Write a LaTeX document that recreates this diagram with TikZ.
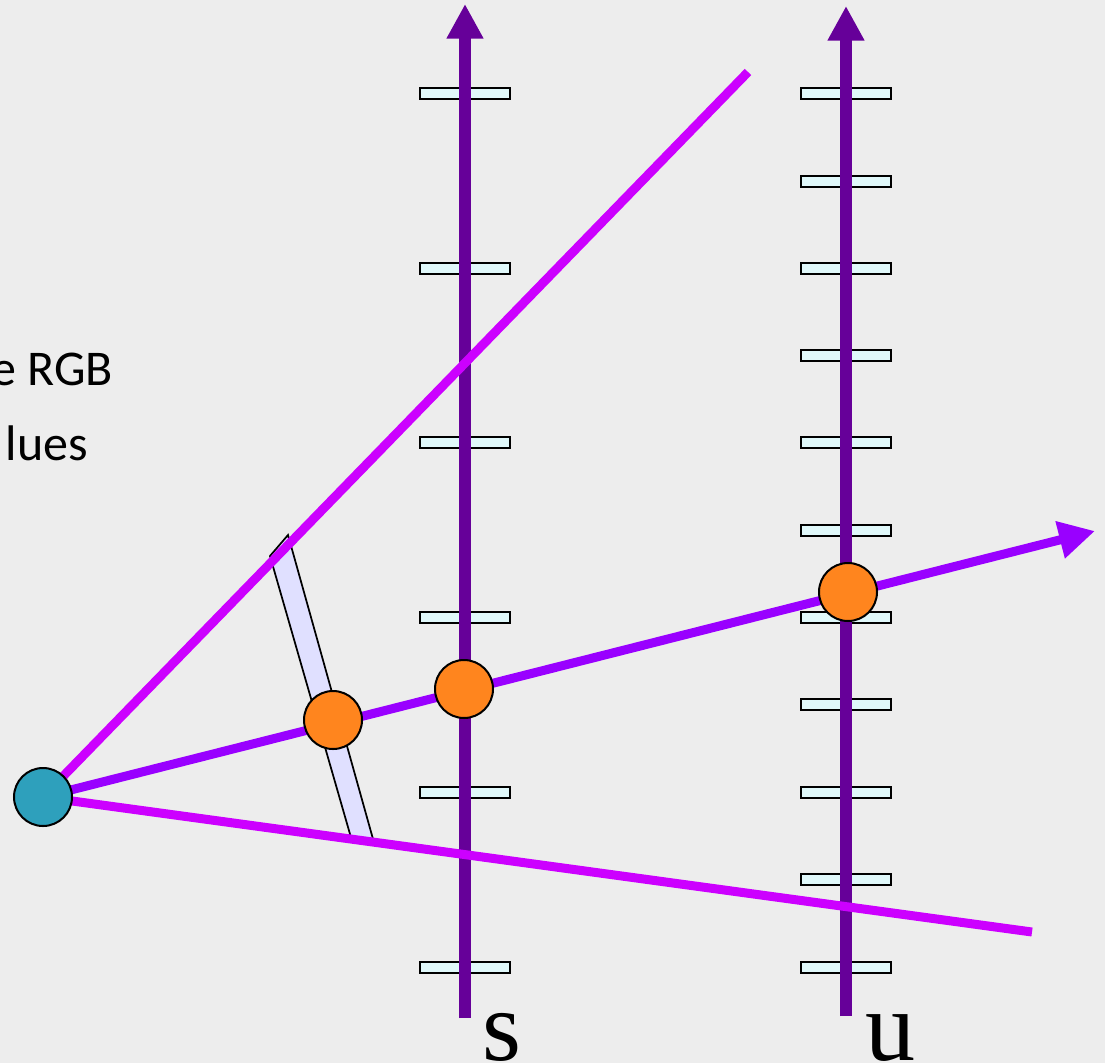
\documentclass[tikz,border=0pt]{standalone}
\usepackage{fontspec}
\setmainfont{Liberation Serif}
\newfontfamily\labelsans{Carlito}
\usetikzlibrary{arrows.meta}

\definecolor{paper}{HTML}{EDEDED}
\definecolor{frustum}{HTML}{CC00FF}
\definecolor{rayviolet}{HTML}{9900FF}
\definecolor{axispurple}{HTML}{660099}
\definecolor{tickfill}{HTML}{E0F8FA}
\definecolor{slabfill}{HTML}{E0E0FF}
\definecolor{sampleorange}{HTML}{FF851E}
\definecolor{eyeteal}{HTML}{2EA0BC}

\pgfdeclarelayer{back}
\pgfdeclarelayer{mid}
\pgfsetlayers{back,mid,main}

\tikzset{
  tickbar/.style={rectangle, draw=black, line width=1.5pt, fill=tickfill,
    minimum width=67.5pt, minimum height=8.25pt, inner sep=0pt},
  axisline/.style={draw=axispurple, line width=9pt,
    -{Triangle[length=26pt,width=26pt]}},
  frustumline/.style={draw=frustum, line width=6.75pt},
  rayline/.style={draw=rayviolet, line width=6.75pt,
    -{Triangle[length=27pt,width=27pt]}},
  dot/.style={circle, draw=black, line width=1.5pt, minimum size=43.5pt, inner sep=0pt},
  slab/.style={draw=black, line width=1.3pt, fill=slabfill},
  sidetext/.style={font=\labelsans\fontsize{37.5pt}{45pt}\selectfont, inner sep=0pt, anchor=base east},
  axislabel/.style={font=\fontsize{75pt}{80pt}\selectfont, inner sep=0pt, anchor=base}
}

\begin{document}
\begin{tikzpicture}[x=0.75pt,y=-0.75pt]
  % page size
  \useasboundingbox (0,0) rectangle (1105,1063);

  % points on the scene
  \node[dot, fill=eyeteal] (eye) at (43,797) {};
  \node[dot, fill=sampleorange] (p1) at (333,720) {};
  \node[dot, fill=sampleorange] (p2) at (464,689) {};
  \node[dot, fill=sampleorange] (p3) at (848,592) {};

  \coordinate (sBot) at (465,1018);
  \coordinate (sTop) at (465,4);
  \coordinate (uBot) at (846,1016);
  \coordinate (uTop) at (846,6);
  \coordinate (upEnd) at (748,72);
  \coordinate (lowEnd) at (1032,932);
  \coordinate (rayEnd) at (1095,531);

  \begin{pgfonlayer}{back}
    % background
    \fill[paper] (0,0) rectangle (1105,1063);
    % tick marks on the two axes
    \foreach \k/\yy in {1/93.5,2/268,3/442.5,4/617,5/792,6/967}
      \node[tickbar] (sTick\k) at (465,\yy) {};
    \foreach \k/\yy in {1/93.5,2/181,3/268,4/355.5,5/442.5,6/530,7/617,8/704.5,9/792,10/879.5,11/967}
      \node[tickbar] (uTick\k) at (846,\yy) {};
    % the two vertical axes
    \draw[axisline] (sBot) -- (sTop);
    \draw[axisline] (uBot) -- (uTop);
  \end{pgfonlayer}

  \begin{pgfonlayer}{mid}
    % slanted slab across the ray, its ends tucked under the frustum edges
    \draw[slab] (270,556) -- (288,535) -- (373,839) -- (352,841) -- cycle;
    % frustum edges
    \draw[frustumline] (eye.center) -- (upEnd);
    \draw[frustumline] (eye.center) -- (lowEnd);
    % central ray
    \draw[rayline] (eye.center) -- (rayEnd);
  \end{pgfonlayer}

  % text
  \node[sidetext] (t1) at (113,385) {e RGB};
  \node[sidetext] (t2) at (88,460) {lues};
  \node[axislabel] (sLab) at (502,1060) {s};
  \node[axislabel] (uLab) at (890,1060) {u};
\end{tikzpicture}
\end{document}
